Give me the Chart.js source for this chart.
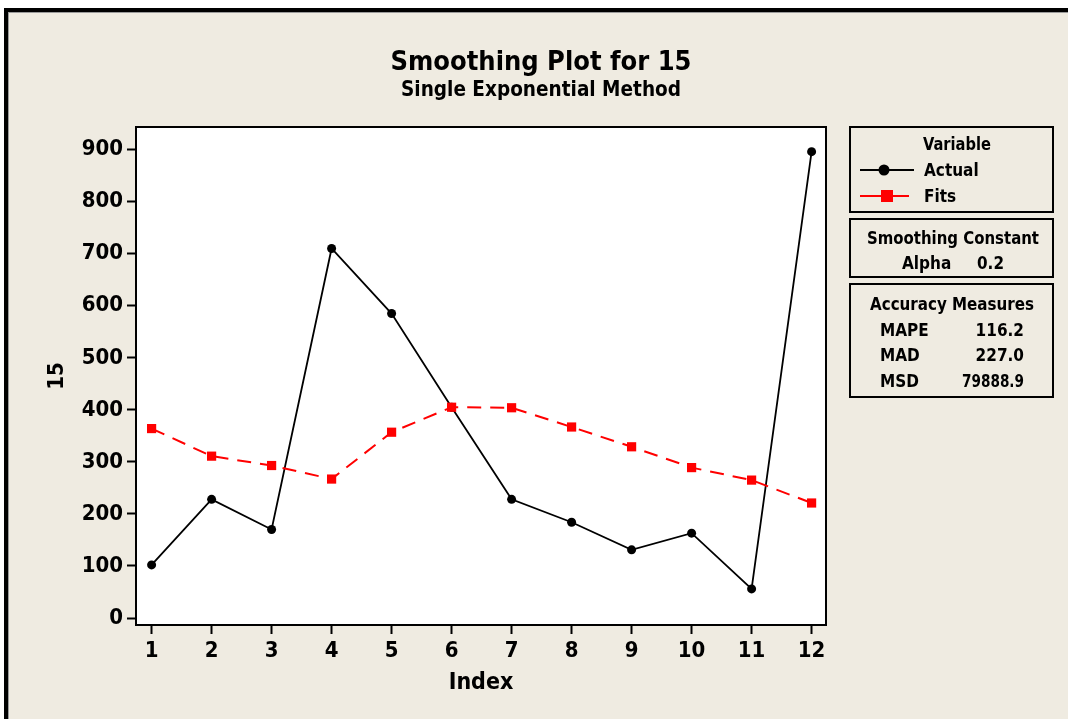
<!DOCTYPE html>
<html>
<head>
<meta charset="utf-8">
<script src="https://cdn.jsdelivr.net/npm/chart.js@4.4.1/dist/chart.umd.min.js"></script>
<style>
  html, body { margin: 0; padding: 0; background: #ffffff; }
  #wrap { width: 1068px; height: 719px; position: relative; }
</style>
</head>
<body>
<div id="wrap"><canvas id="c" width="1068" height="719"></canvas></div>
<script>
// ---- data ----
const indexValues  = [1, 2, 3, 4, 5, 6, 7, 8, 9, 10, 11, 12];
const actualValues = [102, 228, 170, 710, 585, 405, 228, 184, 131, 163, 56, 896];
const fitsValues   = [364, 311, 293, 267, 357, 405, 404, 367, 329, 289, 265, 221];
const yTickValues  = [0, 100, 200, 300, 400, 500, 600, 700, 800, 900];

const titleText    = 'Smoothing Plot for 15';
const subtitleText = 'Single Exponential Method';
const xAxisTitle   = 'Index';
const yAxisTitle   = '15';
const alphaLabel   = 'Alpha';
const alphaValue   = '0.2';
const measureNames  = ['MAPE', 'MAD', 'MSD'];
const measureValues = ['116.2', '227.0', '79888.9'];

// ---- look ----
const FAMILY = "'DejaVu Sans Condensed', 'DejaVu Sans', 'Liberation Sans', sans-serif";
const PAGE_BG = '#efebe1';

function pts(values) {
  return values.map((v, i) => ({ x: indexValues[i], y: v }));
}

function boldFont(size) {
  return 'bold ' + size + 'px ' + FAMILY;
}

// page frame, panel colours and the plot box
const framePlugin = {
  id: 'frame',
  beforeDraw(chart) {
    const ctx = chart.ctx;
    const a = chart.chartArea;
    ctx.save();
    ctx.fillStyle = '#ffffff';
    ctx.fillRect(0, 0, chart.width, chart.height);
    // outer dark frame
    ctx.fillStyle = '#000000';
    ctx.fillRect(4, 8, chart.width - 4, 4);
    ctx.fillRect(4, 8, 4, chart.height - 8);
    ctx.fillStyle = '#9a9a9a';
    ctx.fillRect(8, 12, chart.width - 8, 1);
    ctx.fillRect(8, 12, 1, chart.height - 12);
    ctx.fillStyle = PAGE_BG;
    ctx.fillRect(9, 13, chart.width - 9, chart.height - 13);
    // plot area
    ctx.fillStyle = '#ffffff';
    ctx.fillRect(a.left, a.top, a.right - a.left, a.bottom - a.top);
    ctx.restore();
  },
  afterDraw(chart) {
    const ctx = chart.ctx;
    const a = chart.chartArea;
    ctx.save();
    ctx.strokeStyle = '#000000';
    ctx.lineWidth = 2;
    ctx.strokeRect(a.left, a.top, a.right - a.left, a.bottom - a.top);

    // titles
    ctx.fillStyle = '#000000';
    ctx.textAlign = 'center';
    ctx.textBaseline = 'alphabetic';
    ctx.font = boldFont(27);
    ctx.fillText(titleText, 541, 70, 302);
    ctx.font = boldFont(21);
    ctx.fillText(subtitleText, 541, 96, 280);

    // ---- side panels ----
    ctx.lineWidth = 2;
    ctx.strokeRect(850, 127, 203, 85);
    ctx.strokeRect(850, 219, 203, 58);
    ctx.strokeRect(850, 284, 203, 113);

    ctx.font = boldFont(17);
    ctx.textAlign = 'center';
    ctx.fillText('Variable', 957, 150, 68);

    // legend rows built from the datasets
    const rows = chart.data.datasets;
    const rowY = [170, 196];
    rows.forEach((ds, i) => {
      const y = rowY[i];
      ctx.save();
      ctx.strokeStyle = ds.borderColor;
      ctx.fillStyle = ds.pointBackgroundColor;
      ctx.lineWidth = 2;
      ctx.setLineDash([]);
      ctx.beginPath();
      ctx.moveTo(860, y);
      ctx.lineTo(i === 0 ? 914 : 909, y);
      ctx.stroke();
      if (ds.pointStyle === 'rect') {
        ctx.fillRect(881, y - 6, 12, 12);
      } else {
        ctx.beginPath();
        ctx.arc(884, y, 5.5, 0, Math.PI * 2);
        ctx.fill();
      }
      ctx.restore();
      ctx.textAlign = 'left';
      ctx.fillStyle = '#000000';
      ctx.font = boldFont(17);
      ctx.fillText(ds.label, 924, y + 6);
    });

    ctx.textAlign = 'center';
    ctx.font = boldFont(17);
    ctx.fillText('Smoothing Constant', 953, 244, 172);
    ctx.textAlign = 'left';
    ctx.fillText(alphaLabel, 902, 269, 50);
    ctx.fillText(alphaValue, 977, 269, 27);

    ctx.textAlign = 'center';
    ctx.fillText('Accuracy Measures', 952, 310, 164);
    const measureY = [336, 361, 387];
    measureNames.forEach((name, i) => {
      ctx.textAlign = 'left';
      ctx.fillText(name, 880, measureY[i]);
      ctx.textAlign = 'right';
      ctx.fillText(measureValues[i], 1024, measureY[i], 62);
    });
    ctx.restore();
  }
};

new Chart(document.getElementById('c'), {
  type: 'line',
  data: {
    datasets: [
      {
        label: 'Actual',
        data: pts(actualValues),
        borderColor: '#000000',
        backgroundColor: '#000000',
        pointBackgroundColor: '#000000',
        pointBorderColor: '#000000',
        borderWidth: 1.8,
        pointStyle: 'circle',
        pointRadius: 4.5,
        pointBorderWidth: 0,
        tension: 0,
        order: 2
      },
      {
        label: 'Fits',
        data: pts(fitsValues),
        borderColor: '#ff0000',
        backgroundColor: '#ff0000',
        pointBackgroundColor: '#ff0000',
        pointBorderColor: '#ff0000',
        borderWidth: 2,
        borderDash: [14, 9],
        pointStyle: 'rect',
        pointRadius: 6.5,
        pointBorderWidth: 0,
        tension: 0,
        order: 1
      }
    ]
  },
  plugins: [framePlugin],
  options: {
    responsive: false,
    animation: false,
    events: [],
    layout: { padding: { top: 127, right: 242, left: 0, bottom: 0 } },
    plugins: {
      legend: { display: false },
      title: { display: false },
      tooltip: { enabled: false }
    },
    scales: {
      x: {
        type: 'linear',
        min: 0.74,
        max: 12.24,
        afterFit(scale) { scale.height = 94; },
        afterBuildTicks(scale) { scale.ticks = indexValues.map(v => ({ value: v })); },
        border: { display: false },
        grid: {
          drawOnChartArea: false,
          drawTicks: true,
          tickLength: 9,
          tickWidth: 2,
          tickColor: '#000000'
        },
        ticks: {
          color: '#000000',
          font: { family: FAMILY, weight: 'bold', size: 22 },
          padding: 4,
          maxRotation: 0,
          autoSkip: false
        },
        title: {
          display: true,
          text: xAxisTitle,
          color: '#000000',
          font: { family: FAMILY, weight: 'bold', size: 23 },
          padding: { top: 0, bottom: 22 }
        }
      },
      y: {
        type: 'linear',
        min: -13.4,
        max: 943.4,
        afterFit(scale) { scale.width = 136; },
        afterBuildTicks(scale) { scale.ticks = yTickValues.map(v => ({ value: v })); },
        border: { display: false },
        grid: {
          drawOnChartArea: false,
          drawTicks: true,
          tickLength: 9,
          tickWidth: 2,
          tickColor: '#000000'
        },
        ticks: {
          color: '#000000',
          font: { family: FAMILY, weight: 'bold', size: 22 },
          padding: 4
        },
        title: {
          display: true,
          text: yAxisTitle,
          color: '#000000',
          font: { family: FAMILY, weight: 'bold', size: 22 },
          padding: { top: 44, bottom: 0 }
        }
      }
    }
  }
});
</script>
</body>
</html>
